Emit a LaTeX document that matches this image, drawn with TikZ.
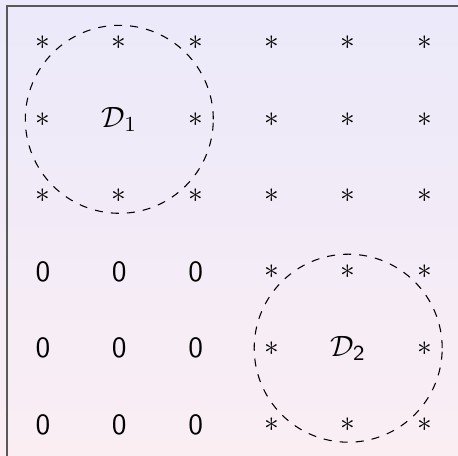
\documentclass[tikz,border=0pt]{standalone}
\usepackage{amsmath,amssymb}
\usetikzlibrary{matrix}
\definecolor{bgtop}{RGB}{235,233,250}
\definecolor{bgbot}{RGB}{250,238,243}

\begin{document}
\begin{tikzpicture}[every node/.style={inner sep=0pt,outer sep=0pt}, region/.style={dashed,line width=0.4pt}]
\shade[top color=bgtop,bottom color=bgbot] (0,0) rectangle (6.003,-5.976);
\useasboundingbox (0,0) rectangle (6.003,-5.976);
\draw[black!65,line width=0.5pt] (0.092,-6.5) |- (6.5,-0.079);
\matrix (m) [matrix of math nodes, anchor=north west, inner sep=0pt,
  nodes={minimum size=1cm,anchor=center,font=\fontsize{11}{13.6}\selectfont}, column sep=0pt, row sep=0pt] at (0.0636,-0.0636) {
  * & * & * & * & * & * \\
  * & \mathcal{D}_1 & * & * & * & * \\
  * & * & * & * & * & * \\
  \mathsf{0} & \mathsf{0} & \mathsf{0} & * & * & * \\
  \mathsf{0} & \mathsf{0} & \mathsf{0} & * & \mathcal{D}_{\mathsf{2}} & * \\
  \mathsf{0} & \mathsf{0} & \mathsf{0} & * & * & * \\
};
\draw[region] (m-2-2.center) circle (1.232);
\draw[region] (m-5-5.center) circle (1.232);
\end{tikzpicture}
\end{document}
